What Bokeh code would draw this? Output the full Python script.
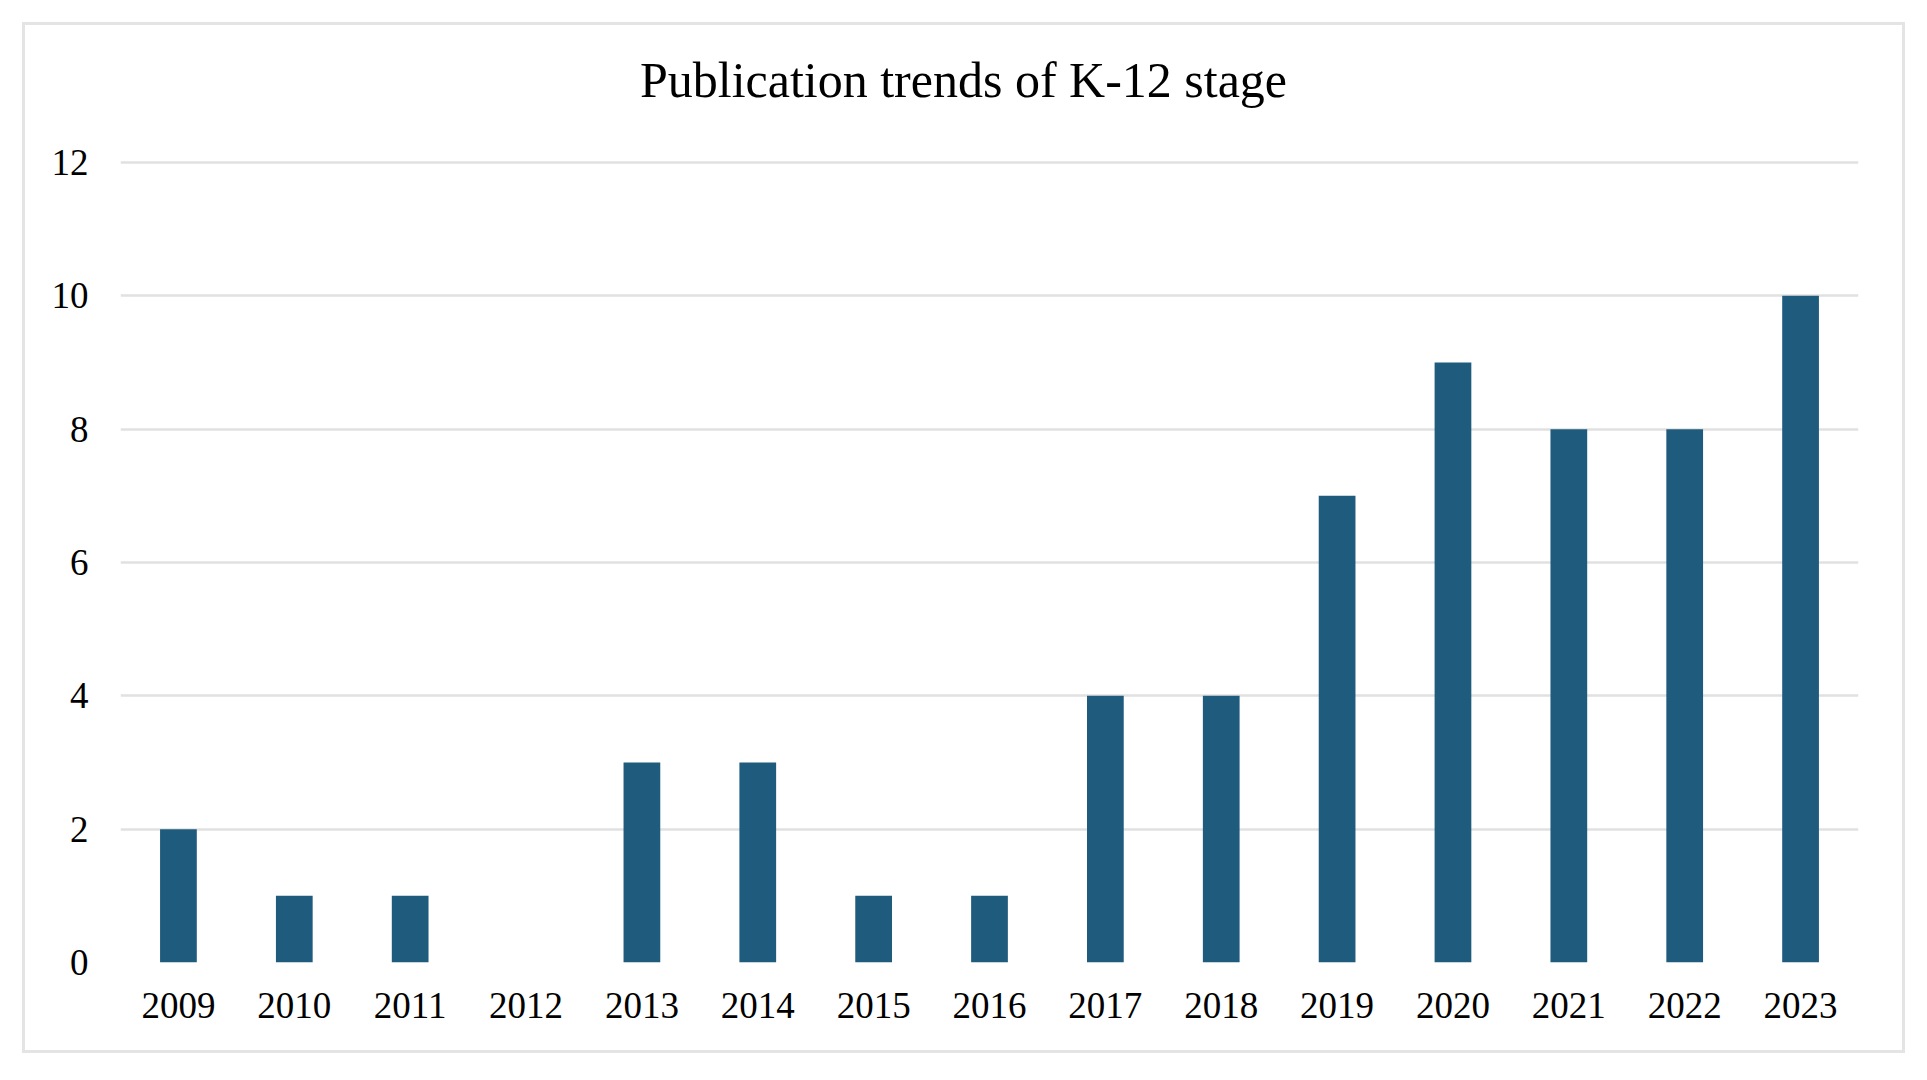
from bokeh.plotting import figure
from bokeh.models import Range1d, FixedTicker, Label
from bokeh.embed import file_html
from bokeh.resources import INLINE

years = ["2009", "2010", "2011", "2012", "2013", "2014", "2015", "2016",
         "2017", "2018", "2019", "2020", "2021", "2022", "2023"]
counts = [2, 1, 1, 0, 3, 3, 1, 1, 4, 4, 7, 9, 8, 8, 10]
y_ticks = [0, 2, 4, 6, 8, 10, 12]

FONT = "Liberation Serif"
BAR = "#1f5b7d"
GRID = "#e1e1e1"

# the value axis runs to 12; the frame reaches higher so the title sits inside it
p = figure(
    x_range=years, y_range=Range1d(0, 13.8),
    width=1877, height=1025,
    margin=(22, 0, 0, 22),
    styles={"border": "3px solid #e4e4e4", "box-sizing": "content-box"},
    output_backend="svg", toolbar_location=None,
    min_border_left=95, min_border_right=50,
    min_border_top=17, min_border_bottom=94,
)
p.outline_line_color = None
p.background_fill_color = "white"
p.border_fill_color = "white"

p.vbar(x=years, top=counts, width=0.317, color=BAR, line_color=None)

# axes: labels only
for ax in (p.xaxis[0], p.yaxis[0]):
    ax.axis_line_color = None
    ax.major_tick_line_color = None
    ax.minor_tick_line_color = None
    ax.major_label_text_font = FONT
    ax.major_label_text_font_size = "37px"
    ax.major_label_text_color = "black"
p.xaxis.major_label_standoff = 24
p.yaxis.major_label_standoff = 26
p.yaxis.ticker = FixedTicker(ticks=y_ticks)

p.xgrid.grid_line_color = None
p.ygrid.grid_line_color = GRID
p.ygrid.grid_line_width = 2.5

# chart title (screen units measured from the plot frame's lower-left corner)
p.add_layout(Label(
    x=843, y=883, x_units="screen", y_units="screen",
    text="Publication trends of K-12 stage",
    text_font=FONT, text_font_size="50px", text_color="black",
    text_align="center", text_baseline="alphabetic",
))

open("out.html", "w").write(file_html(p, INLINE))
